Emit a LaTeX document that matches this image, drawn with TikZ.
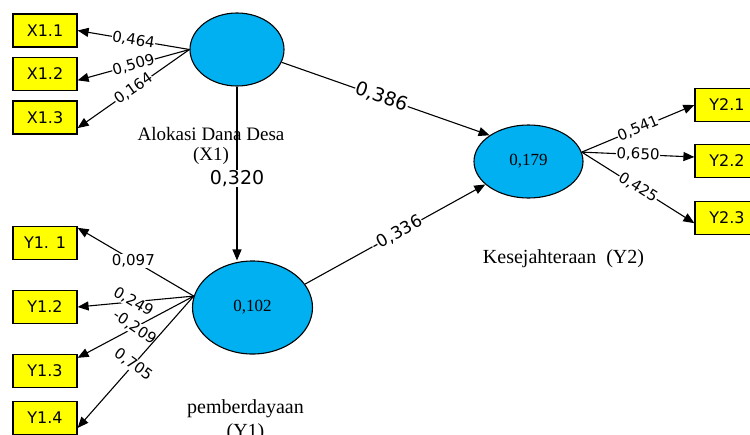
\documentclass[tikz,border=0pt]{standalone}
\usepackage{fontspec}
\setmainfont{Liberation Serif}
\newfontfamily\lblfont{DejaVu Sans}
\usetikzlibrary{arrows.meta,shapes.geometric}
\definecolor{boxyellow}{HTML}{FFFF00}
\definecolor{latblue}{HTML}{00B0F0}
\tikzset{
  indbox/.style={draw=black,line width=1.2pt,fill=boxyellow,minimum width=64pt,minimum height=33pt,inner sep=0pt,font=\lblfont\fontsize{16}{18}\selectfont},
  latent/.style={draw=black,line width=1.1pt,fill=latblue,ellipse,inner sep=0pt,font=\fontsize{17}{19}\selectfont},
  conn/.style={line width=1.1pt,-{Triangle[length=11pt,width=9pt]}},
  coef/.style={fill=white,inner sep=0.5pt,font=\lblfont\fontsize{15}{17}\selectfont},
  bigcoef/.style={fill=white,inner sep=0.5pt,font=\lblfont\fontsize{19}{21}\selectfont},
  midcoef/.style={fill=white,inner sep=0.5pt,font=\lblfont\fontsize{17}{19}\selectfont},
  caption/.style={inner sep=0pt,align=center}
}
\begin{document}
\begin{tikzpicture}[x=1pt,y=-1pt]
\useasboundingbox (0,0) rectangle (750,434);
% latent variables
\node[latent,minimum width=94pt,minimum height=73pt] (x1) at (237,49.5) {};
\node[latent,minimum width=120pt,minimum height=93pt] (y1) at (252.5,307.5) {0,102};
\node[latent,minimum width=109pt,minimum height=73pt] (y2) at (528.5,161.5) {0,179};
% indicators
\node[indbox] (xa) at (45,30.5) {X1.1};
\node[indbox] (xb) at (45,74) {X1.2};
\node[indbox] (xc) at (45,117.5) {X1.3};
\node[indbox] (ya) at (45,243) {Y1. 1};
\node[indbox] (yb) at (45,307) {Y1.2};
\node[indbox] (yc) at (45,371) {Y1.3};
\node[indbox] (yd) at (45,418) {Y1.4};
\node[indbox] (za) at (727,105) {Y2.1};
\node[indbox] (zb) at (727,161) {Y2.2};
\node[indbox] (zc) at (727,218) {Y2.3};
% captions
\node[caption,font=\fontsize{19}{20}\selectfont] (capx1) at (211,146) {Alokasi Dana Desa\\(X1)};
\node[caption,font=\fontsize{20}{24}\selectfont,anchor=base] (capy1) at (245.5,437) {pemberdayaan\\(Y1)};
\node[caption,font=\fontsize{20}{22}\selectfont,anchor=base] (capy2) at (563.5,263) {Kesejahteraan\ \ (Y2)};
% outer loadings X1
\draw[conn] (x1.west) -- node[coef,sloped,pos=0.5] {0,464} (xa.east);
\draw[conn] (x1.west) -- node[coef,sloped,pos=0.5] {0,509} (xb.-11);
\draw[conn] (x1.west) -- node[coef,sloped,pos=0.5] {0,164} (xc.-18);
% outer loadings Y1
\draw[conn] (y1.169) -- node[coef,pos=0.52] {0,097} (ya.25);
\draw[conn] (y1.169) -- node[coef,pos=0.52,rotate=-30] {0,249} (yb.east);
\draw[conn] (y1.169) -- node[coef,pos=0.51,rotate=-34] {-0,209} (yc.22);
\draw[conn] (y1.169) -- node[coef,pos=0.52,rotate=-36] {0,705} (yd.-17);
% outer loadings Y2
\draw[conn] (y2.10) -- node[coef,sloped,pos=0.5] {0,541} (za.west);
\draw[conn] (y2.10) -- node[coef,sloped,pos=0.5] {0,650} (zb.173);
\draw[conn] (y2.10) -- node[coef,sloped,pos=0.5] {0,425} (zc.-171);
% structural paths
\draw[conn] (x1.-16) -- node[bigcoef,sloped,pos=0.48] {0,386} (y2.146);
\draw[conn] (x1.south) -- node[bigcoef,pos=0.53] {0,320} (x1.south |- y1.north);
\draw[conn] (y1.24) -- node[midcoef,sloped,pos=0.51] {-0,336} (y2.208);
\end{tikzpicture}
\end{document}
